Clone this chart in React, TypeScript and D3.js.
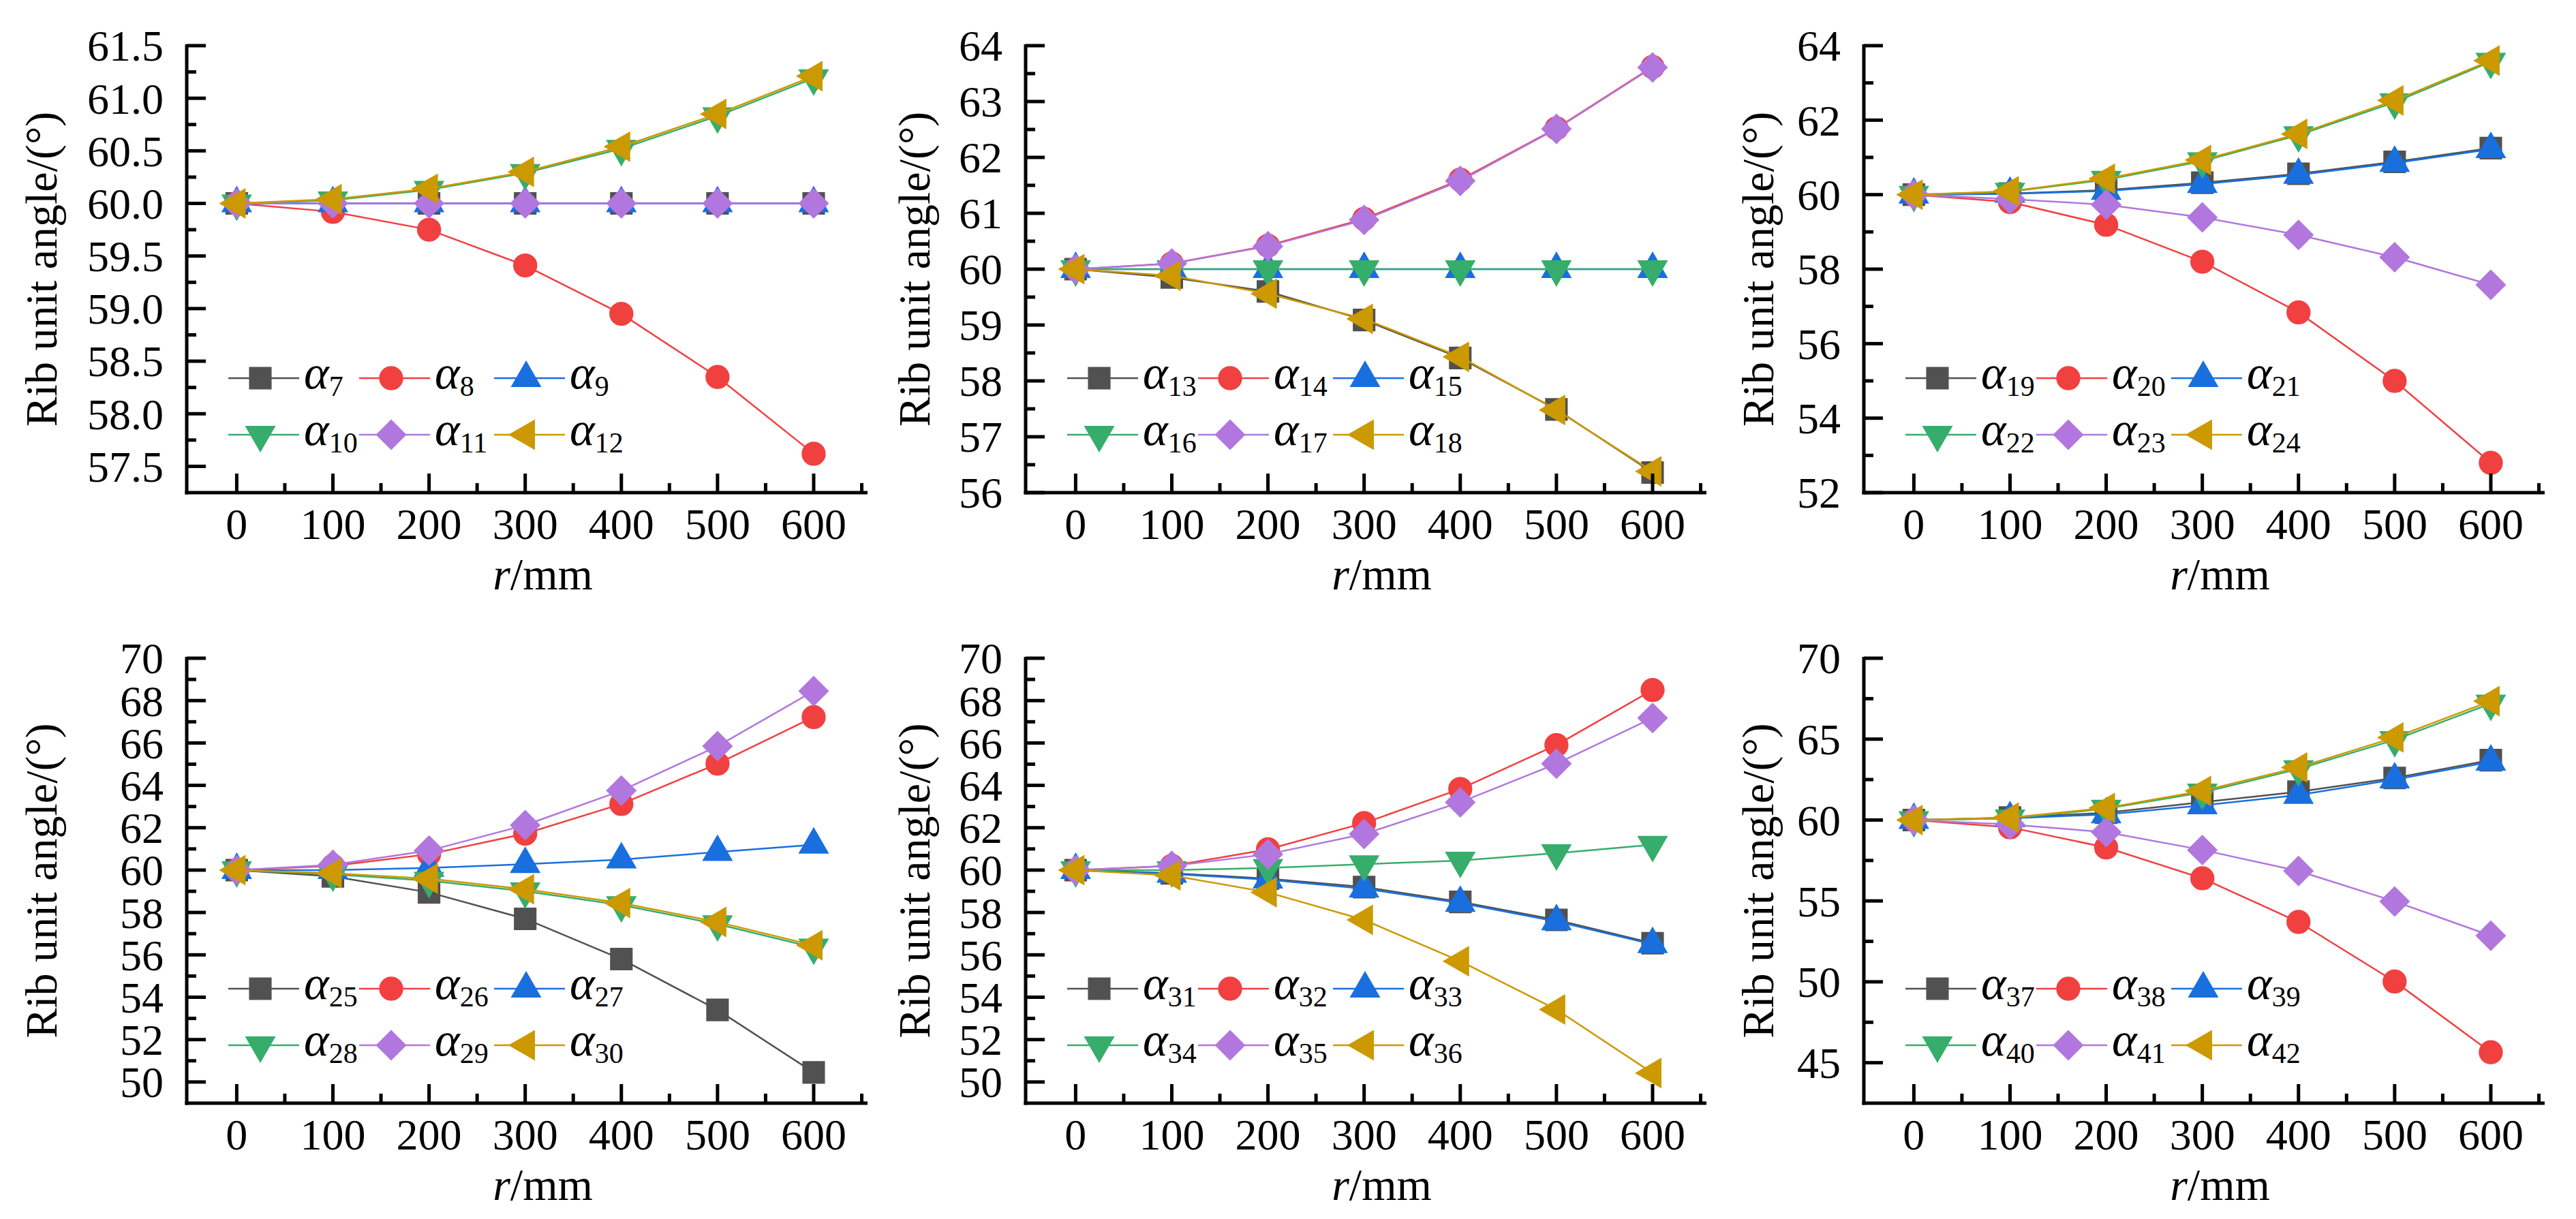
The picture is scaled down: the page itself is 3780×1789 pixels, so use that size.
import React from 'react';
import * as d3 from 'd3';

// r positions (mm) shared by every panel
const R_MM = [0, 100, 200, 300, 400, 500, 600];
const X_TICKS = [0, 100, 200, 300, 400, 500, 600];

// panel 1 : alpha 7 - 12
const A7 = [60, 60, 60, 60, 60, 60, 60];
const A8 = [60, 59.92, 59.75, 59.41, 58.95, 58.35, 57.62];
const A9 = [60, 60, 60, 60, 60, 60, 60];
const A10 = [60, 60.03, 60.13, 60.29, 60.52, 60.83, 61.19];
const A11 = [60, 60, 60, 60, 60, 60, 60];
const A12 = [60, 60.04, 60.14, 60.3, 60.54, 60.85, 61.21];

// panel 2 : alpha 13 - 18
const A13 = [60, 59.85, 59.6, 59.09, 58.41, 57.49, 56.36];
const A14 = [60, 60.1, 60.42, 60.9, 61.6, 62.52, 63.62];
const A15 = [60, 60, 60, 60, 60, 60, 60];
const A16 = [60, 60, 60, 60, 60, 60, 60];
const A17 = [60, 60.1, 60.41, 60.88, 61.58, 62.51, 63.61];
const A18 = [60, 59.88, 59.56, 59.11, 58.43, 57.48, 56.38];

// panel 3 : alpha 19 - 24
const A19 = [60, 60.03, 60.12, 60.32, 60.56, 60.88, 61.25];
const A20 = [60, 59.8, 59.19, 58.2, 56.84, 55.0, 52.8];
const A21 = [60, 60.02, 60.1, 60.28, 60.53, 60.85, 61.22];
const A22 = [60, 60.08, 60.4, 60.9, 61.6, 62.48, 63.57];
const A23 = [60, 59.88, 59.73, 59.39, 58.92, 58.32, 57.58];
const A24 = [60, 60.09, 60.43, 60.93, 61.63, 62.53, 63.6];

// panel 4 : alpha 25 - 30
const A25 = [60, 59.7, 58.95, 57.7, 55.8, 53.4, 50.45];
const A26 = [60, 60.2, 60.75, 61.72, 63.12, 65.02, 67.22];
const A27 = [60, 60.0, 60.1, 60.28, 60.5, 60.85, 61.2];
const A28 = [60, 59.8, 59.5, 59.0, 58.35, 57.45, 56.35];
const A29 = [60, 60.25, 60.92, 62.12, 63.75, 65.85, 68.45];
const A30 = [60, 59.85, 59.6, 59.1, 58.45, 57.55, 56.45];

// panel 5 : alpha 31 - 36
const A31 = [60, 59.85, 59.6, 59.2, 58.5, 57.65, 56.55];
const A32 = [60, 60.2, 60.98, 62.22, 63.83, 65.9, 68.5];
const A33 = [60, 59.82, 59.55, 59.12, 58.45, 57.58, 56.5];
const A34 = [60, 60.0, 60.1, 60.28, 60.45, 60.8, 61.2];
const A35 = [60, 60.2, 60.75, 61.7, 63.2, 65.02, 67.18];
const A36 = [60, 59.75, 58.95, 57.65, 55.7, 53.42, 50.42];

// panel 6 : alpha 37 - 42
const A37 = [60, 60.15, 60.45, 61.1, 61.75, 62.6, 63.7];
const A38 = [60, 59.55, 58.3, 56.4, 53.7, 50.02, 45.65];
const A39 = [60, 60.1, 60.35, 60.9, 61.55, 62.5, 63.6];
const A40 = [60, 60.1, 60.7, 61.7, 63.15, 64.95, 67.2];
const A41 = [60, 59.72, 59.25, 58.15, 56.85, 54.97, 52.85];
const A42 = [60, 60.15, 60.75, 61.8, 63.25, 65.1, 67.35];

// y tick labels for each panel
const P1_TICKS = [57.5, 58, 58.5, 59, 59.5, 60, 60.5, 61, 61.5];
const P2_TICKS = [56, 57, 58, 59, 60, 61, 62, 63, 64];
const P3_TICKS = [52, 54, 56, 58, 60, 62, 64];
const P4_TICKS = [50, 52, 54, 56, 58, 60, 62, 64, 66, 68, 70];
const P5_TICKS = [50, 52, 54, 56, 58, 60, 62, 64, 66, 68, 70];
const P6_TICKS = [45, 50, 55, 60, 65, 70];

const COLORS = ['#515151', '#F14040', '#1A6FDF', '#37AD6B', '#B177DE', '#CC9900'];
const SHAPES = ['square', 'circle', 'up', 'down', 'diamond', 'left'];
const FONT = '"Liberation Serif", "Times New Roman", serif';

const PLOT_W = 999;

const panels = [
  { left: 274, top: 67, bottom: 723, yDomain: [57.25, 61.5], ticks: P1_TICKS, fmt: '.1f', titleX: 83, first: 7, series: [A7, A8, A9, A10, A11, A12] },
  { left: 1505, top: 67, bottom: 723, yDomain: [56, 64], ticks: P2_TICKS, fmt: 'd', titleX: 1364, first: 13, series: [A13, A14, A15, A16, A17, A18] },
  { left: 2735, top: 67, bottom: 723, yDomain: [52, 64], ticks: P3_TICKS, fmt: 'd', titleX: 2602, first: 19, series: [A19, A20, A21, A22, A23, A24] },
  { left: 274, top: 966, bottom: 1619, yDomain: [49, 70], ticks: P4_TICKS, fmt: 'd', titleX: 83, first: 25, series: [A25, A26, A27, A28, A29, A30] },
  { left: 1505, top: 966, bottom: 1619, yDomain: [49, 70], ticks: P5_TICKS, fmt: 'd', titleX: 1364, first: 31, series: [A31, A32, A33, A34, A35, A36] },
  { left: 2735, top: 966, bottom: 1619, yDomain: [42.5, 70], ticks: P6_TICKS, fmt: 'd', titleX: 2602, first: 37, series: [A37, A38, A39, A40, A41, A42] },
];

function marker(shape: string, cx: number, cy: number, color: string, key: string) {
  let type: d3.SymbolType = d3.symbolSquare;
  let size = 1000;
  let rot = 0;
  if (shape === 'circle') { type = d3.symbolCircle; size = 900; }
  if (shape === 'up') { type = d3.symbolTriangle; size = 780; }
  if (shape === 'down') { type = d3.symbolTriangle; size = 780; rot = 180; }
  if (shape === 'left') { type = d3.symbolTriangle; size = 780; rot = -90; }
  if (shape === 'diamond') { type = d3.symbolSquare; size = 920; rot = 45; }
  const d = d3.symbol(type, size)() as string;
  return (
    <path key={key} d={d} transform={`translate(${cx},${cy}) rotate(${rot})`}
      fill={color} stroke={color} strokeWidth={1.5} />
  );
}

function Panel({ cfg }: { cfg: any }) {
  const x = d3.scaleLinear().domain([-52, 656]).range([cfg.left, cfg.left + PLOT_W]);
  const y = d3.scaleLinear().domain(cfg.yDomain).range([cfg.bottom, cfg.top]);
  const fmt = d3.format(cfg.fmt);
  const line = d3.line<number>().x((_, i) => x(R_MM[i])).y((d) => y(d));

  const ticks: number[] = cfg.ticks;
  const yMinor = d3.pairs(ticks).map(([a, b]) => (a + b) / 2);
  const xMinor = d3.pairs(X_TICKS).map(([a, b]) => (a + b) / 2).concat([650]);

  const right = cfg.left + PLOT_W;
  const cx = (cfg.left + right) / 2;
  const cy = (cfg.top + cfg.bottom) / 2;
  const legendCols = [108, 300, 498];
  const legendRows = [cfg.bottom - 168, cfg.bottom - 85];

  return (
    <g>
      {cfg.series.map((s: number[], i: number) => (
        <g key={'s' + i}>
          <path d={line(s) as string} fill="none" stroke={COLORS[i]} strokeWidth={2.5} />
          {s.map((v, j) => marker(SHAPES[i], x(R_MM[j]), y(v), COLORS[i], 'm' + j))}
        </g>
      ))}

      {/* legend */}
      {cfg.series.map((_: number[], i: number) => {
        const mx = cfg.left + legendCols[i % 3];
        const my = legendRows[Math.floor(i / 3)];
        return (
          <g key={'l' + i}>
            <line x1={mx - 47} x2={mx + 57} y1={my} y2={my} stroke={COLORS[i]} strokeWidth={2.5} />
            {marker(SHAPES[i], mx, my, COLORS[i], 'lm')}
            <text x={mx + 64} y={my + 15} fontFamily={FONT} fontSize={70} fontStyle="italic">
              α<tspan fontStyle="normal" fontSize={42} dy={11}>{cfg.first + i}</tspan>
            </text>
          </g>
        );
      })}

      {/* axes */}
      <line x1={cfg.left} x2={cfg.left} y1={cfg.top - 2} y2={cfg.bottom + 2.5} stroke="#000" strokeWidth={5} />
      <line x1={cfg.left - 2.5} x2={right} y1={cfg.bottom} y2={cfg.bottom} stroke="#000" strokeWidth={5} />
      {ticks.map((t) => (
        <g key={'yt' + t}>
          <line x1={cfg.left} x2={cfg.left + 28} y1={y(t)} y2={y(t)} stroke="#000" strokeWidth={5} />
          <text x={cfg.left - 34} y={y(t)} dy="0.35em" textAnchor="end" fontFamily={FONT} fontSize={64}>{fmt(t)}</text>
        </g>
      ))}
      {yMinor.map((t) => (
        <line key={'ym' + t} x1={cfg.left} x2={cfg.left + 14} y1={y(t)} y2={y(t)} stroke="#000" strokeWidth={5} />
      ))}
      {X_TICKS.map((t) => (
        <g key={'xt' + t}>
          <line x1={x(t)} x2={x(t)} y1={cfg.bottom} y2={cfg.bottom - 28} stroke="#000" strokeWidth={5} />
          <text x={x(t)} y={cfg.bottom + 68} textAnchor="middle" fontFamily={FONT} fontSize={64}>{t}</text>
        </g>
      ))}
      {xMinor.map((t) => (
        <line key={'xm' + t} x1={x(t)} x2={x(t)} y1={cfg.bottom} y2={cfg.bottom - 14} stroke="#000" strokeWidth={5} />
      ))}

      {/* titles */}
      <text x={cx + 23} y={cfg.bottom + 142} textAnchor="middle" fontFamily={FONT} fontSize={66}>
        <tspan fontStyle="italic">r</tspan>/mm
      </text>
      <text transform={`translate(${cfg.titleX},${cy}) rotate(-90)`} textAnchor="middle" fontFamily={FONT} fontSize={66}>
        Rib unit angle/(°)
      </text>
    </g>
  );
}

export default function App() {
  return (
    <svg width={3780} height={1789} style={{ position: 'absolute', left: 0, top: 0, background: '#fff' }}>
      <rect width={3780} height={1789} fill="#fff" />
      {panels.map((p, i) => <Panel key={i} cfg={p} />)}
    </svg>
  );
}
